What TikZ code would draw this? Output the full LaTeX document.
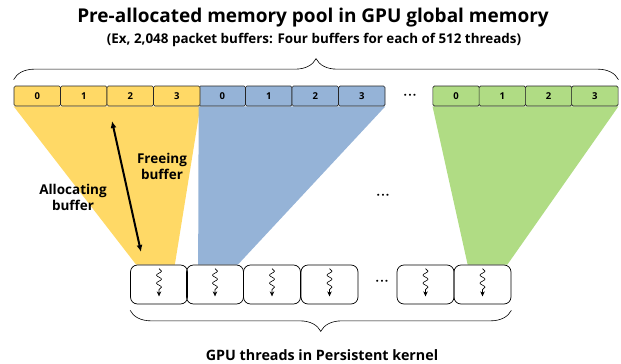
\documentclass[tikz,border=0pt]{standalone}
\usepackage{fontspec}
\setmainfont{Open Sans}
\usepackage{tikz}
\usetikzlibrary{arrows.meta}
\usetikzlibrary{backgrounds}
\usetikzlibrary{decorations.pathreplacing,decorations.pathmorphing}
\definecolor{memyellow}{HTML}{FFD966}
\definecolor{memblue}{HTML}{95B3D7}
\definecolor{memgreen}{HTML}{B0DC84}
\tikzset{cell/.style={draw=black!85, line width=0.7pt, rounded corners=1.5pt, minimum width=46.5pt, minimum height=20pt, inner sep=0pt, font=\bfseries\fontsize{9.5}{9.5}\selectfont},
%thread boxes of the persistent kernel
thread/.style={draw=black, line width=0.7pt, rounded corners=7pt, minimum width=57pt, minimum height=39pt, inner sep=0pt},
wiggle/.style={-{Stealth[length=5pt,width=4.5pt]}, line width=0.6pt, decorate, decoration={snake, amplitude=2.5pt, segment length=8pt, post length=5pt}},
lbl/.style={font=\bfseries\fontsize{13.5}{16}\selectfont, align=center},
dots/.style={font=\bfseries\fontsize{12}{12}\selectfont}}

\begin{document}
\begin{tikzpicture}[x=1pt,y=-1pt]
\useasboundingbox (0,0) rectangle (621,364);
%\draw [help lines] (0,0) grid (621,364);
% title
\node[font=\bfseries\fontsize{19}{19}\selectfont] (title) at (313,18) {Pre-allocated memory pool in GPU global memory};
\node[font=\bfseries\fontsize{13.4}{13.4}\selectfont] (subtitle) at (314,40) {(Ex, 2,048 packet buffers: Four buffers for each of 512 threads)};

% buffers
\foreach \i in {0,...,3} {
     \node[cell,fill=memyellow] (y\i) at ({37.25+46.5*\i},96) {\i};
     \node[cell,fill=memblue] (b\i) at ({222.25+46.5*\i},96) {\i};
     \node[cell,fill=memgreen] (g\i) at ({456.1+46.25*\i},96) {\i};
}
\node[dots] (topdots) at (410,97) {·\kern1.2pt·\kern1.2pt·};

% threads
\foreach \n/\x in {1/159,2/215,3/272,4/329.5,5/425.5,6/482.5} {
     \node[thread] (t\n) at (\x,284.5) {};
     \draw[wiggle] ([yshift=-4pt]t\n.north) -- ([yshift=8pt]t\n.south);
}
\node[dots] (middots) at (383,197) {·\kern1.2pt·\kern1.2pt·};
\node[dots] (botdots) at (382,283) {·\kern1.2pt·\kern1.2pt·};

% regions of each thread
\begin{scope}[on background layer]
\fill[memyellow] (y0.south west) -- (y3.south east) -- ([xshift=-13pt]t1.north east) -- ([xshift=6pt]t1.north west) -- cycle;
\fill[memblue] (b0.south west) -- (b3.south east) -- ([xshift=-6pt]t2.north east) -- ([xshift=12pt]t2.north west) -- cycle;
\fill[memgreen] (g0.south west) -- (g3.south east) -- ([xshift=-4pt]t6.north east) -- ([xshift=14pt]t6.north west) -- cycle;
\end{scope}

% braces
\draw[line width=0.6pt, decorate, decoration={brace, amplitude=21pt}] ([yshift=6pt]y0.north west) -- ([yshift=6pt]g3.north east);
\draw[line width=0.6pt, decorate, decoration={brace, amplitude=21pt}] ([yshift=-6pt]t6.south east) -- ([yshift=-6pt]t1.south west);

% allocating / freeing
\coordinate (alloc) at (112,121);
\coordinate (free) at (141,252);
\draw[{Latex[length=7pt,width=6pt]}-{Latex[length=7pt,width=6pt]}, line width=2pt] (alloc) -- (free);
\node[lbl] (freeing) at (162,166) {Freeing\\buffer};
\node[lbl] (allocating) at (73,197) {Allocating\\buffer};

\node[lbl, font=\bfseries\fontsize{14.3}{16}\selectfont] (kernel) at (322,355) {GPU threads in Persistent kernel};
\end{tikzpicture}
\end{document}
